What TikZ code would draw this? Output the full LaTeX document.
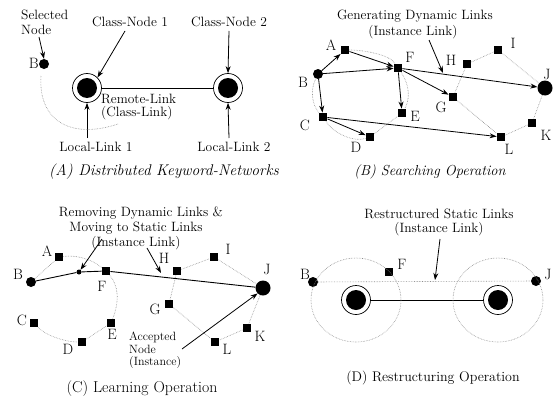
\documentclass[tikz,border=0pt]{standalone}
\usetikzlibrary{arrows.meta}
\begin{document}
\begin{tikzpicture}[x=1pt,y=-1pt,
  txt/.style={font=\fontsize{13.5}{14}\selectfont, inner sep=0pt},
  smalltxt/.style={font=\fontsize{12}{12}\selectfont, inner sep=0pt},
  lbl/.style={font=\fontsize{15}{16}\selectfont, inner sep=0pt},
  captxt/.style={font=\fontsize{#1}{16}\selectfont, inner sep=0pt},
  sq/.style={fill=black, minimum size=8.5pt, inner sep=0pt, draw=none},
  pdot/.style={circle, fill=black, minimum size=10pt, inner sep=0pt},
  bigdot/.style={circle, fill=black, minimum size=15pt, inner sep=0pt},
  cls/.style={circle, draw=black, line width=0.7pt, minimum size=29pt, inner sep=0pt,
     path picture={\fill[black] (path picture bounding box.center) circle (10pt);}},
  arr/.style={-{Stealth[length=7pt,width=5pt]}, line width=0.8pt},
  link/.style={line width=0.9pt},
  faint/.style={densely dotted, black!45, line width=0.6pt}]
\useasboundingbox (0,0) rectangle (553,396);

% ================= Panel A =================
\node[txt, anchor=west] (selA) at (21,15) {Selected};
\node[txt, anchor=west] (selB) at (21,30) {Node};
\node[pdot] (aB) at (44,64) {};
\node[lbl, anchor=east] (aBl) at (39,63) {B};
\coordinate (selT) at (39,37);
\draw[arr] (selT) -- (aB.north);
\node[cls] (cn1) at (87,88) {};
\node[cls] (cn2) at (228,88) {};
\draw[link] (cn1) -- (cn2);
\node[txt] (tcn1) at (130,22) {Class-Node 1};
\node[txt] (tcn2) at (229,22) {Class-Node 2};
\coordinate (c1s) at (125,31);
\coordinate (c2s) at (229,31);
\draw[arr] (c1s) -- (cn1.north east);
\draw[arr] (c2s) -- (cn2.north);
\node[txt, anchor=west] (rl1) at (101,99) {Remote-Link};
\node[txt, anchor=west] (rl2) at (101,113) {(Class-Link)};
\node[txt] (ll1) at (96,147) {Local-Link 1};
\node[txt] (ll2) at (234,147) {Local-Link 2};
\coordinate (l1s) at (87,138);
\coordinate (l2s) at (229,138);
\draw[arr] (l1s) -- (cn1.south);
\draw[arr] (l2s) -- (cn2.south);
\draw[faint] (41,76) .. controls (38,120) and (70,140) .. (118,124);
\node[captxt=15.5] (capA) at (164,172) {\itshape (A) Distributed Keyword-Networks};

% ================= Panel B =================
\node[sq] (bA) at (345,50) {};
\node[pdot] (bB) at (318,74) {};
\node[sq] (bF) at (398,68) {};
\node[sq] (bH) at (467,64) {};
\node[sq] (bI) at (498,50) {};
\node[bigdot] (bJ) at (545,88) {};
\node[sq] (bG) at (453,97) {};
\node[sq] (bE) at (402,113) {};
\node[sq] (bC) at (323,117) {};
\node[sq] (bD) at (370,137) {};
\node[sq] (bL) at (501,137) {};
\node[sq] (bK) at (532,123) {};
\node[lbl] at (331,45) {A};
\node[lbl] at (303,82) {B};
\node[lbl] at (410,57) {F};
\node[lbl] at (451,60) {H};
\node[lbl] at (513,43) {I};
\node[lbl] at (547,74) {J};
\node[lbl] at (441,107) {G};
\node[lbl] at (415,116) {E};
\node[lbl] at (305,125) {C};
\node[lbl] at (356,147) {D};
\node[lbl] at (509,149) {L};
\node[lbl] at (546,135) {K};
\draw[faint] (bA) .. controls (365,50) and (390,55) .. (bF);
\draw[faint] (bB) .. controls (310,90) and (312,105) .. (bC);
\draw[faint] (bC) .. controls (335,135) and (355,142) .. (bD);
\draw[faint] (bF) .. controls (410,85) and (410,100) .. (bE);
\draw[faint] (bD) -- (bE);
\draw[faint] (bH) -- (bG);
\draw[faint] (bG) -- (bL);
\draw[faint] (bH) -- (bI);
\draw[faint] (bI) -- (bJ);
\draw[faint] (bJ) -- (bK);
\draw[faint] (bK) -- (bL);
\draw[arr] (bB) -- (bA);
\draw[arr] (bA) -- (bF);
\draw[arr] (bB) -- (bF);
\draw[arr] (bF) -- (bJ);
\draw[arr] (bF) -- (bE);
\draw[arr] (bF) -- (bG);
\draw[arr] (bB) -- (bC);
\draw[arr] (bC) -- (bD);
\draw[arr] (bC) -- (bL);
\node[txt] (gdl1) at (415,16) {Generating Dynamic Links};
\node[txt] (gdl2) at (413,32) {(Instance Link)};
\coordinate (gdlS) at (429,40);
\coordinate (gdlT) at (443,73);
\draw[arr] (gdlS) -- (gdlT);
\node[captxt=14.5] (capB) at (430,172) {\itshape (B) Searching Operation};

% ================= Panel C =================
\node[sq] (cA) at (59,257) {};
\node[pdot] (cB) at (31,282) {};
\node[sq] (cF) at (106,271) {};
\node[sq] (cH) at (177,271) {};
\node[sq] (cI) at (214,257) {};
\node[bigdot] (cJ) at (263,288) {};
\node[sq] (cG) at (169,304) {};
\node[sq] (cC) at (34,323) {};
\node[sq] (cE) at (111,323) {};
\node[sq] (cD) at (82,342) {};
\node[sq] (cL) at (215,342) {};
\node[sq] (cK) at (247,328) {};
\node[lbl] at (47,251) {A};
\node[lbl] at (18,274) {B};
\node[lbl] at (102,286) {F};
\node[lbl] at (164,258) {H};
\node[lbl] at (228,249) {I};
\node[lbl] at (267,269) {J};
\node[lbl] at (155,309) {G};
\node[lbl] at (22,320) {C};
\node[lbl] at (112,334) {E};
\node[lbl] at (68,349) {D};
\node[lbl] at (227,349) {L};
\node[lbl] at (260,336) {K};
\draw[faint] (cB) -- (cA);
\draw[faint] (cA) .. controls (75,255) and (90,258) .. (cF);
\draw[faint] (cF) .. controls (118,285) and (120,300) .. (cE);
\draw[faint] (cC) .. controls (45,335) and (65,342) .. (cD);
\draw[faint] (cD) -- (cE);
\draw[faint] (cH) -- (cG);
\draw[faint] (cG) -- (cL);
\draw[faint] (cH) -- (cI);
\draw[faint] (cI) -- (cJ);
\draw[faint] (cJ) -- (cK);
\draw[faint] (cK) -- (cL);
\node[circle, fill=black, minimum size=5pt, inner sep=0pt] (cX) at (79,272) {};
\draw[link] (cB) -- (cX) -- (cF) -- (cJ);
\node[txt] (rdl1) at (141,213) {Removing Dynamic Links \&};
\node[txt] (rdl2) at (136,228) {Moving to Static Links};
\node[txt] (rdl3) at (136,243) {(Instance Link)};
\coordinate (cS1) at (102,239);
\coordinate (cS2) at (147,248);
\coordinate (cT2) at (161,273);
\draw[arr] (cS1) -- (cX);
\draw[arr] (cS2) -- (cT2);
\node[smalltxt, anchor=west] (acc1) at (129,337) {Accepted};
\node[smalltxt, anchor=west] (acc2) at (129,349.5) {Node};
\node[smalltxt, anchor=west] (acc3) at (129,362) {(Instance)};
\coordinate (accS) at (182,349);
\draw[arr] (accS) -- (cJ.south west);
\node[captxt=15.8] (capC) at (142,389) {(C) Learning Operation};

% ================= Panel D =================
\node[pdot] (dB) at (313,282) {};
\node[sq] (dF) at (389,272) {};
\node[pdot] (dJ) at (536,281) {};
\node[lbl] at (305,274) {B};
\node[lbl] at (402,264) {F};
\node[lbl] at (548,274) {J};
\node[cls] (dc1) at (356,300) {};
\node[cls] (dc2) at (498,300) {};
\draw[link] (dc1) -- (dc2);
\draw[faint] (dB) -- (dJ);
\draw[faint] (356,300) ellipse [x radius=45, y radius=42];
\draw[faint] (498,300) ellipse [x radius=45, y radius=42];
\node[txt] (rsl1) at (439,214) {Restructured Static Links};
\node[txt] (rsl2) at (439,229) {(Instance Link)};
\coordinate (dS) at (440,239);
\coordinate (dT) at (435,280);
\draw[arr] (dS) -- (dT);
\node[captxt=14] (capD) at (433,378) {(D) Restructuring Operation};
\end{tikzpicture}
\end{document}
